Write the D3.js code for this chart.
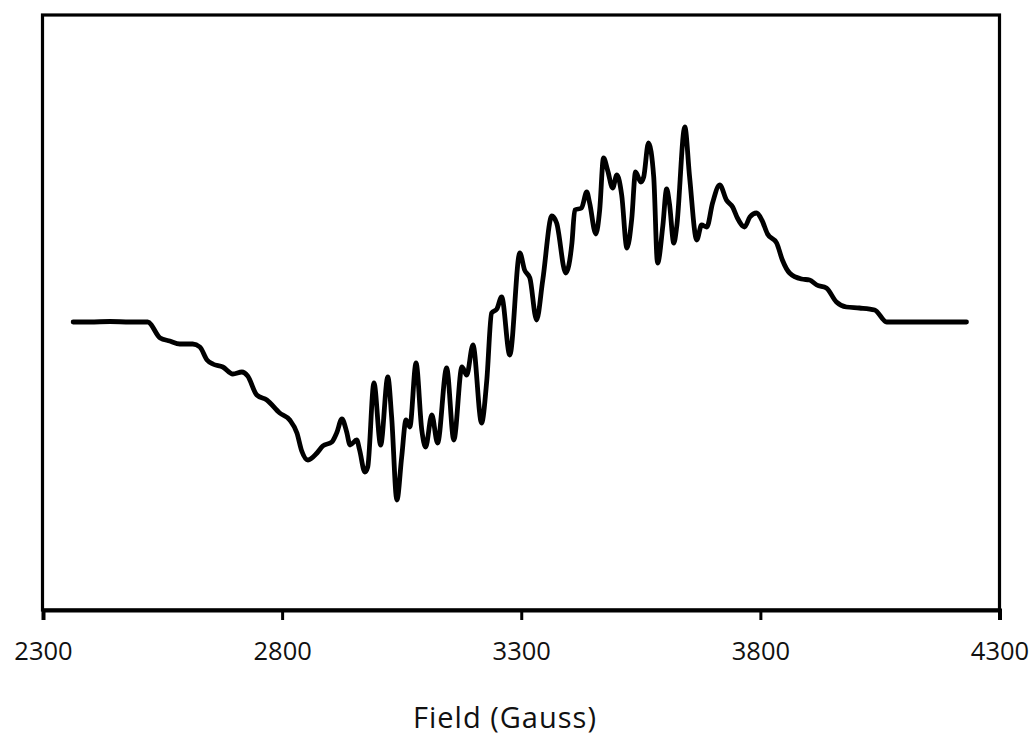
<!DOCTYPE html>
<html>
<head>
<meta charset="utf-8">
<script src="https://cdn.jsdelivr.net/npm/d3@7"></script>
<style>
  html, body { margin: 0; padding: 0; background: #fff; }
  svg { display: block; }
</style>
</head>
<body>
<svg id="chart" width="1035" height="738"></svg>
<script>
// Field values (Gauss)
const field = [2363, 2398, 2440, 2482, 2519, 2545, 2565, 2586, 2613, 2628, 2643, 2655, 2676, 2697, 2716, 2728,
  2747, 2768, 2795, 2816, 2831, 2841, 2854, 2873, 2885, 2904, 2914, 2925, 2935, 2942, 2956, 2962, 2973, 2979,
  2992, 3006, 3021, 3029, 3040, 3050, 3059, 3067, 3080, 3092, 3100, 3113, 3125, 3144, 3159, 3176, 3186, 3199,
  3217, 3228, 3238, 3249, 3259, 3276, 3297, 3307, 3318, 3332, 3345, 3364, 3374, 3393, 3406, 3412, 3426, 3437,
  3443, 3456, 3464, 3472, 3481, 3491, 3500, 3510, 3521, 3531, 3539, 3550, 3556, 3566, 3577, 3585, 3596, 3604,
  3610, 3619, 3625, 3642, 3652, 3667, 3677, 3688, 3700, 3715, 3729, 3742, 3752, 3767, 3778, 3792, 3803, 3815,
  3834, 3846, 3861, 3886, 3903, 3918, 3938, 3959, 3980, 4007, 4039, 4064, 4091, 4133, 4175, 4231];
// EPR signal (arbitrary units)
const signal = [0, 0, 0.005, 0, 0, -0.16, -0.19, -0.22, -0.22, -0.25, -0.38, -0.42, -0.45, -0.52, -0.50, -0.54,
  -0.73, -0.78, -0.91, -0.98, -1.11, -1.29, -1.38, -1.31, -1.24, -1.20, -1.11, -0.97, -1.10, -1.23, -1.18, -1.28, -1.50, -1.45,
  -0.61, -1.23, -0.55, -0.95, -1.78, -1.35, -0.98, -1.05, -0.41, -1.08, -1.25, -0.93, -1.21, -0.46, -1.18, -0.45, -0.53, -0.23,
  -1.01, -0.58, 0.09, 0.13, 0.25, -0.33, 0.69, 0.52, 0.44, 0.02, 0.42, 1.06, 0.99, 0.49, 0.79, 1.12, 1.14, 1.30,
  1.19, 0.88, 1.12, 1.64, 1.51, 1.34, 1.47, 1.27, 0.74, 1.03, 1.50, 1.40, 1.45, 1.79, 1.45, 0.59, 0.96, 1.33,
  1.18, 0.79, 0.95, 1.95, 1.45, 0.82, 0.97, 0.95, 1.19, 1.37, 1.22, 1.15, 1.04, 0.95, 1.05, 1.09, 1.02, 0.88,
  0.79, 0.62, 0.49, 0.43, 0.42, 0.37, 0.34, 0.20, 0.15, 0.14, 0.12, 0, 0, 0, 0, 0];
const xTicks = [2300, 2800, 3300, 3800, 4300];
const xDomain = [2300, 4300];
const yDomain = [-2.88, 3.07];
const xTitle = "Field (Gauss)";

const svg = d3.select("#chart");
const mLeft = 43, mRight = 999.5, mTop = 15, mBottom = 610;

const x = d3.scaleLinear().domain(xDomain).range([mLeft, mRight]);
const y = d3.scaleLinear().domain(yDomain).range([mBottom, mTop]);

// plot frame
svg.append("rect")
  .attr("x", mLeft - 0.5).attr("y", mTop)
  .attr("width", mRight - mLeft + 0.5).attr("height", mBottom - mTop)
  .attr("fill", "none").attr("stroke", "#000").attr("stroke-width", 3.2);

// x axis
const xAxis = d3.axisBottom(x).tickValues(xTicks).tickSize(10).tickSizeOuter(10).tickPadding(22)
  .tickFormat(d3.format("d"));
const gx = svg.append("g").attr("transform", `translate(0,${mBottom})`).call(xAxis);
gx.select(".domain").attr("stroke", "#000").attr("stroke-width", 4);
gx.selectAll(".tick line").attr("stroke", "#000").attr("stroke-width", 3);
gx.selectAll(".tick text")
  .attr("font-family", "'Open Sans', sans-serif")
  .attr("font-size", 25.5)
  .attr("fill", "#111");

// axis title
svg.append("text")
  .attr("x", 505).attr("y", 728)
  .attr("text-anchor", "middle")
  .attr("font-family", "'Open Sans', sans-serif")
  .attr("font-size", 29)
  .attr("letter-spacing", 1)
  .attr("fill", "#111")
  .text(xTitle);

// signal line
const data = field.map((f, i) => ({ f, s: signal[i] }));
const line = d3.line().x(d => x(d.f)).y(d => y(d.s)).curve(d3.curveMonotoneX);
svg.append("path")
  .datum(data)
  .attr("d", line)
  .attr("fill", "none")
  .attr("stroke", "#000")
  .attr("stroke-width", 4.8)
  .attr("stroke-linejoin", "round")
  .attr("stroke-linecap", "round");
</script>
</body>
</html>
